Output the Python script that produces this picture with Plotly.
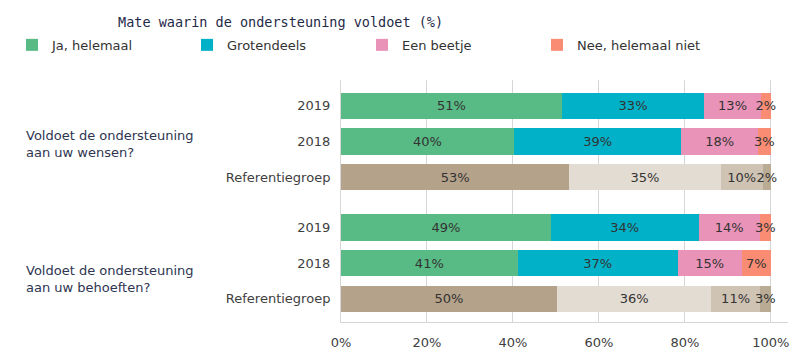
import plotly.graph_objects as go

# ---- data ----
questions = ["Voldoet de ondersteuning<br>aan uw wensen?",
             "Voldoet de ondersteuning<br>aan uw behoeften?"]
rows = ["2019", "2018", "Referentiegroep"]
series_names = ["Ja, helemaal", "Grotendeels", "Een beetje", "Nee, helemaal niet"]
ja = [51.4, 40.2, 53.1, 48.8, 41.1, 50.2]
groot = [33.1, 39.0, 35.2, 34.4, 37.2, 36.0]
beetje = [13.2, 17.8, 9.8, 14.2, 15.0, 11.2]
nee = [2.3, 3.0, 1.9, 2.6, 6.7, 2.6]
x_ticks = [0, 20, 40, 60, 80, 100]

# ---- styling ----
colors_main = ["#58BA84", "#00B1C7", "#EA93B9", "#FA8C74"]
colors_ref = ["#B5A28A", "#E3DCD2", "#CFC4B3", "#BAAB95"]
font_family = "DejaVu Sans"
group_gap = 0.4

# positions of the rows (numeric y so groups can be separated)
positions = []
for g in range(len(questions)):
    for i in range(len(rows)):
        positions.append(g * (len(rows) + group_gap) + i)
row_labels = rows * len(questions)
is_ref = [lbl == "Referentiegroep" for lbl in row_labels]

fig = go.Figure()
for k, (name, vals) in enumerate(zip(series_names, [ja, groot, beetje, nee])):
    cols = [colors_ref[k] if r else colors_main[k] for r in is_ref]
    fig.add_trace(go.Bar(
        name=name, x=vals, y=positions, orientation="h",
        width=0.74,
        marker=dict(color=cols, line=dict(width=0)),
        text=[f"{v:.0f}%" for v in vals],
        textposition="inside", insidetextanchor="middle", textangle=0,
        insidetextfont=dict(family=font_family, size=13, color="#333333"),
        hoverinfo="x+name",
    ))

# group labels (placed relative to the start of each group)
annotations = []
label_offsets = [1.06, 1.45]
for g, q in enumerate(questions):
    centre = g * (len(rows) + group_gap) + label_offsets[g]
    annotations.append(dict(
        text=q, xref="paper", yref="y", x=-0.709, y=centre,
        xanchor="left", yanchor="middle", align="left", showarrow=False,
        font=dict(family=font_family, size=13, color="#2E3550"),
    ))
annotations.append(dict(
    text="Mate waarin de ondersteuning voldoet (%)",
    xref="paper", yref="paper", x=-0.503, y=1.24,
    xanchor="left", yanchor="middle", showarrow=False,
    font=dict(family="DejaVu Sans Mono", size=13.5, color="#1F2A48"),
))

fig.update_layout(
    barmode="stack",
    width=799, height=356,
    margin=dict(l=341, r=11, t=80, b=34, autoexpand=False),
    paper_bgcolor="white", plot_bgcolor="white",
    font=dict(family=font_family, size=13, color="#333333"),
    uniformtext=dict(minsize=13, mode="show"),
    showlegend=True,
    legend=dict(
        orientation="h", x=-0.736, y=1.207, xanchor="left", yanchor="top",
        entrywidth=130, entrywidthmode="pixels", traceorder="normal",
        font=dict(family=font_family, size=13, color="#333333"),
        itemclick=False, itemdoubleclick=False,
    ),
    annotations=annotations,
    xaxis=dict(
        range=[0, 104], tickvals=x_ticks,
        ticktext=[f"{t}%" for t in x_ticks],
        showgrid=True, gridcolor="#D6D6D6", gridwidth=1,
        showline=True, linecolor="#D6D6D6", linewidth=1,
        zeroline=False, ticks="", ticklabelstandoff=8,
        tickfont=dict(family=font_family, size=13, color="#404040"),
    ),
    yaxis=dict(
        range=[6.05, -0.72], tickvals=positions, ticktext=row_labels,
        showgrid=False, zeroline=False,
        showline=True, linecolor="#D6D6D6", linewidth=1,
        ticks="", ticklabelstandoff=7,
        tickfont=dict(family=font_family, size=13, color="#404040"),
    ),
)

fig.write_html("out.html", config={"displayModeBar": False},
               post_script="document.body.style.margin='0';")
